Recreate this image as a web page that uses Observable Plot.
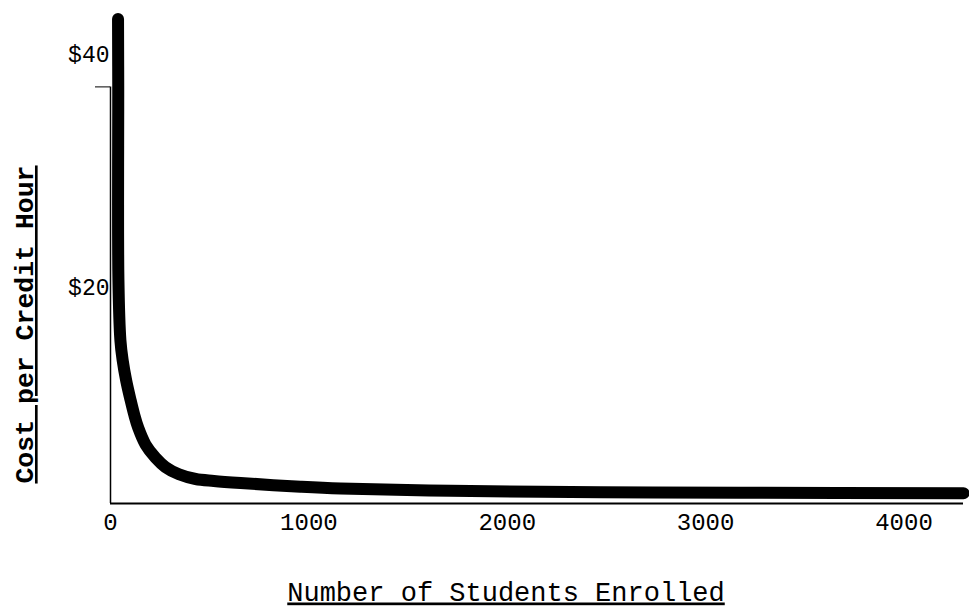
<!DOCTYPE html>
<html><head><meta charset="utf-8">
<script src="https://cdn.jsdelivr.net/npm/d3@7"></script>
<script src="https://cdn.jsdelivr.net/npm/@observablehq/plot@0.6"></script>
<style>body{margin:0;background:#fff}</style>
</head><body><div id="chart"></div>
<script>
const students = [38, 39, 40, 50, 61, 79, 101, 120, 140, 177, 227, 277, 345, 429, 521, 656, 958, 1160, 1715, 2472, 3178, 4300];
const cost     = [44.9, 38.7, 20.7, 15.1, 13.3, 11.4, 9.6, 8.2, 7.0, 5.45, 4.24, 3.38, 2.71, 2.27, 2.09, 1.9, 1.55, 1.38, 1.17, 1.05, 1.0, 0.95];
const xTicks = [0, 1000, 2000, 3000, 4000];
const yTicksLow = [20];
const yTicksHigh = [40];
const yAxisTop = 38.6;
const xLabel = "Number of Students Enrolled";
const yLabel = "Cost per Credit Hour";

const data = students.map((s, i) => ({students: s, cost: cost[i]}));

const chart = Plot.plot({
  width: 969, height: 610,
  marginLeft: 110, marginRight: 6, marginTop: 13, marginBottom: 107,
  x: {domain: [0, 4300]},
  y: {domain: [0, 45.4]},
  style: {fontFamily: "'Liberation Mono', monospace", color: "#000", background: "#fff"},
  marks: [
    Plot.ruleY([0], {strokeWidth: 2}),
    Plot.ruleX([0], {y1: 0, y2: yAxisTop, strokeWidth: 1.5}),
    Plot.axisY({ticks: [yAxisTop], tickSize: 15, tickFormat: () => "", label: null}),
    Plot.axisY({ticks: yTicksLow, tickSize: 0, tickPadding: 1, tickFormat: d => "$" + d, fontSize: 23, label: null}),
    Plot.axisY({ticks: yTicksHigh, tickSize: 0, tickPadding: 1, tickFormat: d => "$" + d, fontSize: 23, label: null, dy: -17}),
    Plot.axisX({ticks: xTicks, tickSize: 0, tickPadding: 9, fontSize: 24, label: null, tickFormat: d => String(d)}),
    Plot.line(data, {x: "students", y: "cost", strokeWidth: 12, curve: "catmull-rom", strokeLinecap: "round", strokeLinejoin: "round", stroke: "#000"}),
    Plot.text([xLabel], {frameAnchor: "bottom", lineAnchor: "bottom", dy: 97, dx: -31, fontSize: 27}),
    Plot.text([yLabel], {frameAnchor: "left", textAnchor: "middle", rotate: -90, dx: -86, dy: 66, fontSize: 26.5, fontWeight: "bold"})
  ]
});
document.getElementById("chart").appendChild(chart);
d3.select(chart).selectAll("text").filter(function() {
  return this.textContent === xLabel || this.textContent === yLabel;
}).attr("text-decoration", "underline");
</script>
</body></html>
